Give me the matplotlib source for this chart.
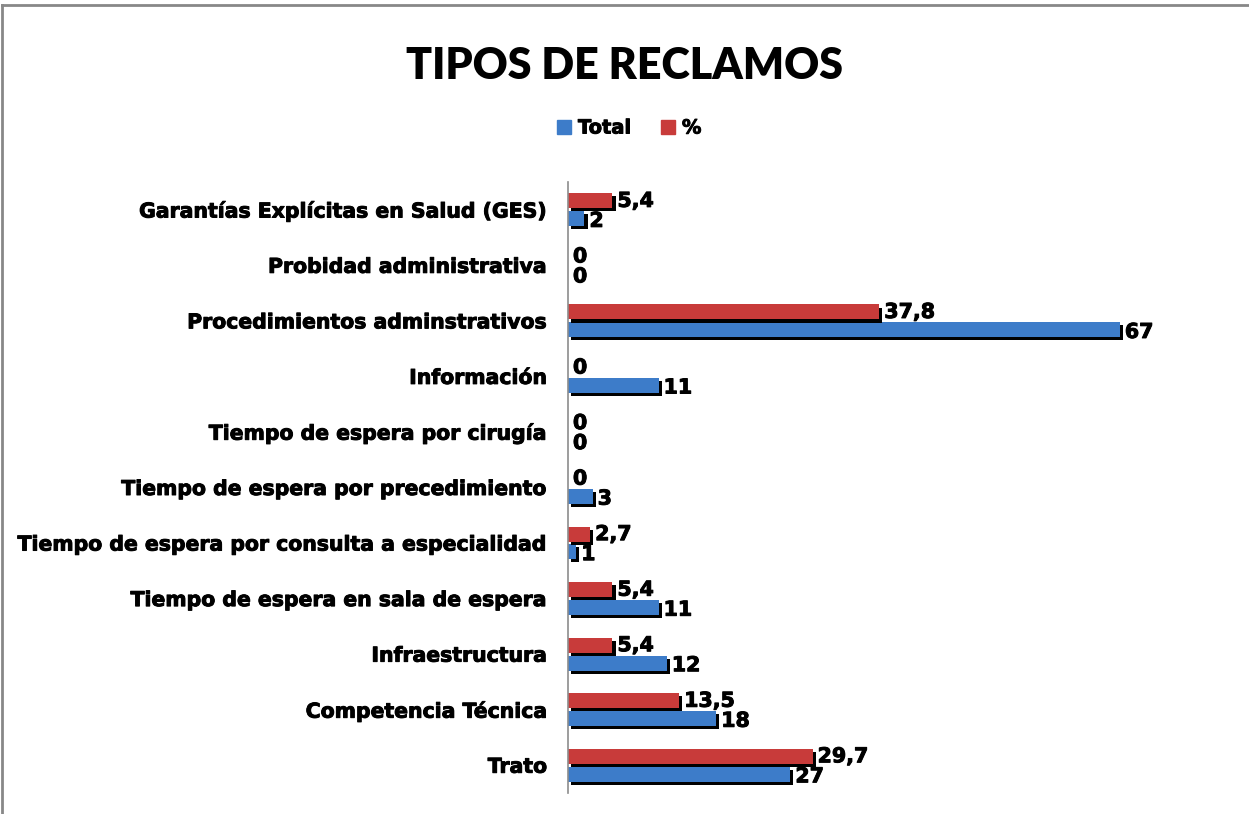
import matplotlib.pyplot as plt
import matplotlib.patheffects as pe
from matplotlib.lines import Line2D
from matplotlib.patches import Patch
import numpy as np

# categorias de abajo hacia arriba
categorias = [
    "Trato",
    "Competencia Técnica",
    "Infraestructura",
    "Tiempo de espera en sala de espera",
    "Tiempo de espera por consulta a especialidad",
    "Tiempo de espera por precedimiento",
    "Tiempo de espera por cirugía",
    "Información",
    "Procedimientos adminstrativos",
    "Probidad administrativa",
    "Garantías Explícitas en Salud (GES)",
]
total = [27, 18, 12, 11, 1, 3, 0, 11, 67, 0, 2]
porcentaje = [29.7, 13.5, 5.4, 5.4, 2.7, 0, 0, 0, 37.8, 0, 5.4]

azul = "#3d7cc9"
rojo = "#c83b3a"

plt.rcParams['font.family'] = ['DejaVu Sans']
plt.rcParams['font.weight'] = 'bold'

fig = plt.figure(figsize=(12.49, 8.14), dpi=100)
ax = fig.add_axes([568 / 1249, 1 - 793 / 814, (1227 - 568) / 1249, (793 - 182) / 814])

y = np.arange(len(categorias))
h = 0.27
sombra = [pe.SimplePatchShadow(offset=(2.2, -2.2), shadow_rgbFace='black', alpha=1), pe.Normal()]
grueso = [pe.withStroke(linewidth=0.7, foreground='black')]

b_total = ax.barh(y - 0.16, total, height=h, color=azul, path_effects=sombra)
b_pct = ax.barh(y + 0.16, porcentaje, height=h, color=rojo, path_effects=sombra)

def fmt(v):
    return f"{v:g}".replace(".", ",")

for bars, vals, dy in [(b_total, total, -0.04), (b_pct, porcentaje, 0.0)]:
    for b, v in zip(bars, vals):
        ax.text(v + 0.6, b.get_y() + b.get_height() / 2 + dy, fmt(v),
                va='center', ha='left', fontsize=14.8, fontweight='bold',
                path_effects=grueso)

ax.set_xlim(0, 80)
ax.set_ylim(-0.5, len(categorias) - 0.5)
ax.set_yticks(y)
ax.set_yticklabels(categorias, fontsize=14.7, fontweight='bold', path_effects=grueso)
ax.tick_params(axis='y', length=0, pad=15)
ax.set_xticks([])
for s in ['top', 'right', 'bottom']:
    ax.spines[s].set_visible(False)
ax.spines['left'].set_color('#8c8c8c')
ax.spines['left'].set_linewidth(1.2)

fig.text(0.5, 1 - 66 / 814, "TIPOS DE RECLAMOS", ha='center', va='center',
         fontsize=31, fontweight='heavy', family=['Lato', 'DejaVu Sans'])

leyenda = [Patch(color=azul, label="Total"), Patch(color=rojo, label="%")]
leg = fig.legend(handles=leyenda, loc='center', bbox_to_anchor=(629 / 1249, 1 - 128 / 814),
                 ncol=2, frameon=False, fontsize=14, handlelength=0.75, handleheight=0.75,
                 handletextpad=0.35, columnspacing=1.5)
for t in leg.get_texts():
    t.set_path_effects(grueso)

# marco gris del grafico
fig.add_artist(Line2D([2 / 1249, 1], [1 - 5 / 814, 1 - 5 / 814], color='#888888', lw=2))
fig.add_artist(Line2D([2 / 1249, 2 / 1249], [0, 1 - 5 / 814], color='#888888', lw=2))

fig.savefig("out.png", dpi=100)
